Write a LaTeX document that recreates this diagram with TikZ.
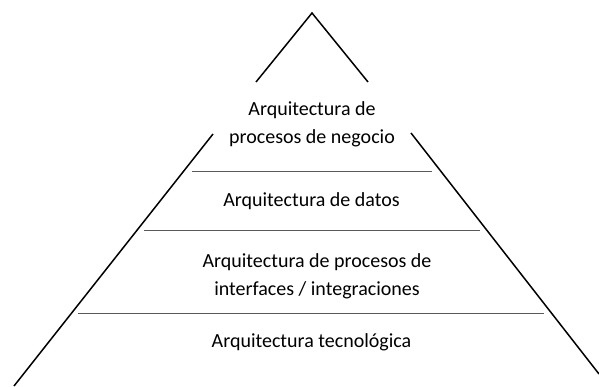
\documentclass[tikz,border=0pt]{standalone}
\usepackage{fontspec}
\setmainfont{Carlito}
\tikzset{
  side/.style={line width=1.5pt, black},
  divider/.style={line width=1.2pt, black!65},
  layer/.style={font=\fontsize{20}{28}\selectfont, align=center, inner sep=0pt},
}
\begin{document}
\begin{tikzpicture}[x=1pt,y=-1pt]
  \useasboundingbox (0,0) rectangle (599,386);

  % Pyramid corners
  \coordinate (apex) at (312,13);
  \coordinate (leftTop) at (256,82);
  \coordinate (rightTop) at (368,82);
  \coordinate (leftLow) at (213,134);
  \coordinate (rightLow) at (411,133);
  \coordinate (leftBase) at (14,386);
  \coordinate (rightBase) at (599,374);

  % Pyramid sides (broken around the top label)
  \draw[side] (leftTop) -- (apex) -- (rightTop);
  \draw[side] (leftLow) -- (leftBase);
  \draw[side] (rightLow) -- (rightBase);

  % Layer dividers
  \draw[divider] (192,171.5) -- (432,171.5);
  \draw[divider] (144,230.5) -- (480,230.5);
  \draw[divider] (78,313.5) -- (544,313.5);

  % Layer labels
  \node[layer] (business) at (312,124) {Arquitectura de\\procesos de negocio};
  \node[layer, anchor=base] (data) at (311.5,206) {Arquitectura de datos};
  \node[layer] (interfaces) at (317,276) {Arquitectura de procesos de\\interfaces / integraciones};
  \node[layer, anchor=base] (technology) at (311.5,347) {Arquitectura tecnológica};

\end{tikzpicture}
\end{document}
